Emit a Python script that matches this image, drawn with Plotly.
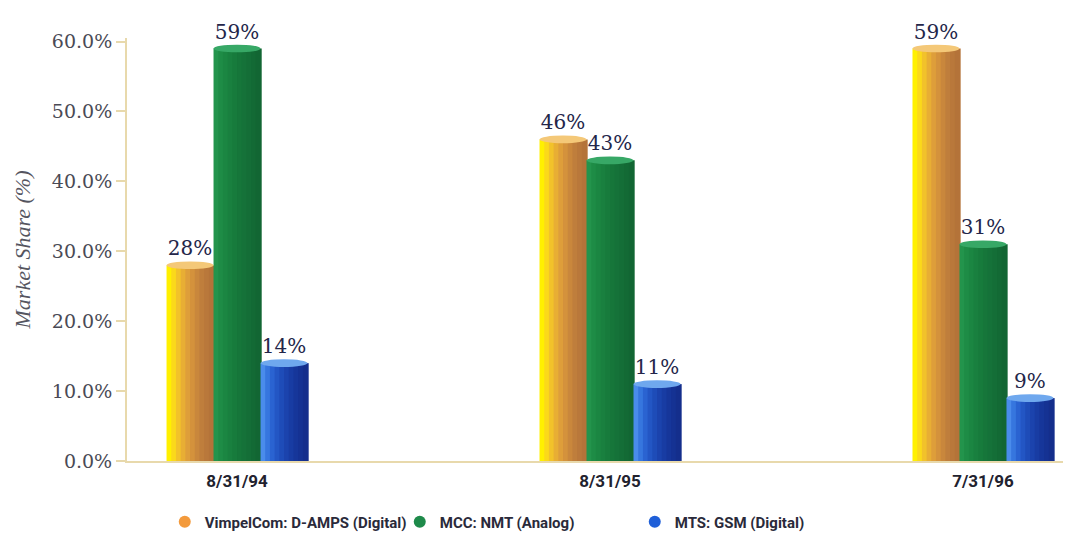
import plotly.graph_objects as go

categories = ["8/31/94", "8/31/95", "7/31/96"]
series_names = ["VimpelCom: D-AMPS (Digital)", "MCC: NMT (Analog)", "MTS: GSM (Digital)"]
vimpelcom = [28, 46, 59]
mcc = [59, 43, 31]
mts = [14, 11, 9]
labels_vimpelcom = ["28%", "46%", "59%"]
labels_mcc = ["59%", "43%", "31%"]
labels_mts = ["14%", "11%", "9%"]

series_values = [vimpelcom, mcc, mts]
series_labels = [labels_vimpelcom, labels_mcc, labels_mts]

# stripe colours (left -> right) to fake a cylinder shading
stripes = [
    ["#FFF000", "#FBD91A", "#F2C22A", "#E8AE34", "#DE9E3A", "#D4923C", "#C9873C", "#BF7E3C", "#B9783B", "#B47339"],
    ["#23944C", "#1E8C46", "#1B8642", "#19803F", "#177B3C", "#16763A", "#157239", "#146E37", "#136A35", "#126633"],
    ["#4A8CEB", "#3676DE", "#2A63D1", "#2356C4", "#1E4CB8", "#1B43AD", "#183CA3", "#16369A", "#153293", "#142E8C"],
]
cap_colors = ["#F4C878", "#37A866", "#6FA8EE"]
legend_colors = ["#F39A3C", "#1E8A4A", "#1F5FD8"]
label_color = "#24264A"

bw = 0.126
offsets = [-bw, 0.0, bw]
N = len(stripes[0])

fig = go.Figure()
shapes = []
for s, vals in enumerate(series_values):
    xs = [i + offsets[s] for i in range(len(categories))]
    for k in range(N):
        fig.add_trace(go.Bar(
            x=xs, y=vals,
            width=bw / N * 1.25,
            offset=-bw / 2 + k * bw / N,
            marker=dict(color=stripes[s][k], line=dict(width=0)),
            showlegend=False, hoverinfo="skip",
        ))
    for x, v in zip(xs, vals):
        shapes.append(dict(type="circle", xref="x", yref="y",
                           x0=x - bw / 2, x1=x + bw / 2, y0=v - 0.55, y1=v + 0.55,
                           fillcolor=cap_colors[s], line=dict(width=0), layer="above"))
    fig.add_trace(go.Scatter(
        x=xs, y=[v + 0.7 for v in vals], mode="text", text=series_labels[s],
        textposition="top center",
        textfont=dict(family="DejaVu Serif, Liberation Serif, serif", size=20, color=label_color),
        showlegend=False, hoverinfo="skip", cliponaxis=False,
    ))

for s, name in enumerate(series_names):
    fig.add_trace(go.Scatter(
        x=[None], y=[None], mode="markers", name=name,
        marker=dict(symbol="circle", size=15, color=legend_colors[s]),
    ))

axis_color = "#E8D9AC"
fig.update_layout(
    width=1063, height=533,
    paper_bgcolor="white", plot_bgcolor="white",
    margin=dict(l=119, r=0, t=30, b=80),
    barmode="overlay",
    shapes=shapes,
    showlegend=True,
    legend=dict(orientation="h", x=0.04, xanchor="left", y=-0.105, yanchor="top",
                font=dict(family="Roboto, Liberation Sans, sans-serif",
                          size=15, color="#2A2A3A", weight="bold"),
                itemsizing="constant", itemwidth=30, tracegroupgap=0,
                entrywidth=190),
    xaxis=dict(
        range=[-0.295, 2.236], tickvals=list(range(len(categories))), ticktext=categories,
        showline=True, linecolor=axis_color, linewidth=2, showgrid=False, zeroline=False,
        ticks="", ticklabelstandoff=4,
        tickfont=dict(family="Roboto, Liberation Sans, sans-serif",
                      size=17, color="#22222E", weight="bold"),
    ),
    yaxis=dict(
        range=[0, 60.5], dtick=10, tickformat=".1f", ticksuffix="%",
        showline=True, linecolor=axis_color, linewidth=2, showgrid=False, zeroline=False,
        ticks="outside", ticklen=9, tickcolor=axis_color, tickwidth=2,
        tickfont=dict(family="DejaVu Serif, Liberation Serif, serif", size=19, color="#4A4A55"),
        title=dict(text="Market Share (%)", standoff=15,
                   font=dict(family="Liberation Serif, DejaVu Serif, serif", size=22,
                             color="#55555F", style="italic")),
    ),
)

fig.write_html("out.html")
